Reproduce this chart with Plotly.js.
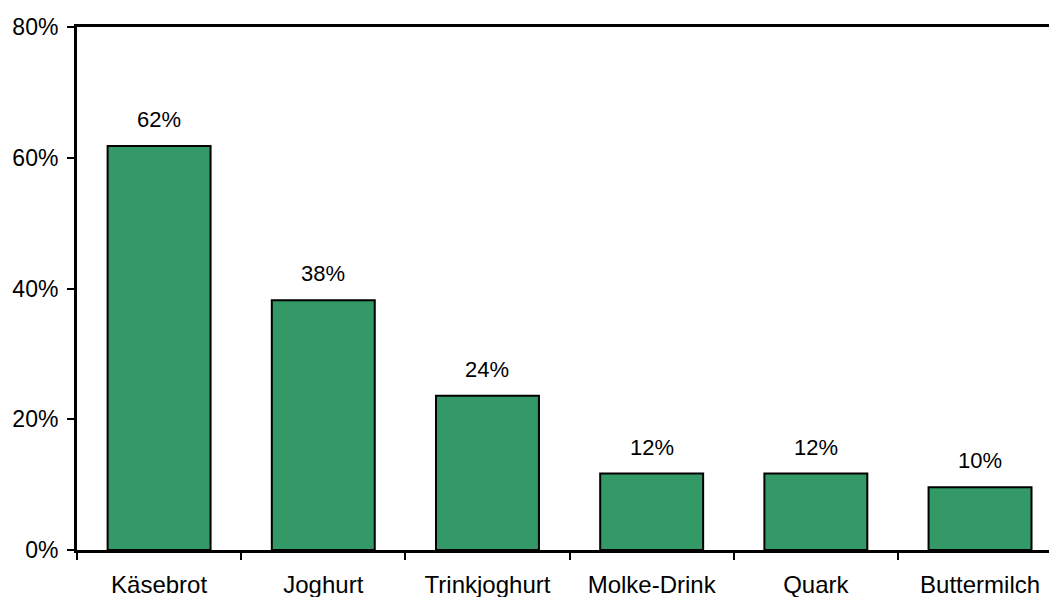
<!DOCTYPE html>
<html>
<head>
<meta charset="utf-8">
<script src="https://cdn.plot.ly/plotly-3.0.1.min.js"></script>
<style>html,body{margin:0;padding:0;background:#fff;}#chart{width:1049px;height:597px;}</style>
</head>
<body>
<div id="chart"></div>
<script>
const categories = ["Käsebrot", "Joghurt", "Trinkjoghurt", "Molke-Drink", "Quark", "Buttermilch"];
const values = [61.8, 38.2, 23.6, 11.7, 11.7, 9.6];
const labels = ["62%", "38%", "24%", "12%", "12%", "10%"];
const yTicks = [0, 20, 40, 60, 80];
const yTickLabels = ["0%", "20%", "40%", "60%", "80%"];

const font = "Arial, 'Liberation Sans', sans-serif";

const trace = {
  type: "bar",
  x: categories,
  y: values,
  marker: {color: "#339966", line: {color: "#000", width: 2}},
  hoverinfo: "none"
};

const annotations = categories.map((c, i) => ({
  x: c, y: values[i], xref: "x", yref: "y",
  text: labels[i], showarrow: false, yanchor: "bottom", yshift: 12,
  font: {family: font, size: 22, color: "#000"}
}));

const layout = {
  width: 1049, height: 597,
  margin: {l: 77, r: 0, t: 27, b: 47},
  paper_bgcolor: "#fff", plot_bgcolor: "#fff",
  showlegend: false,
  bargap: 0.373,
  font: {family: font, color: "#000"},
  xaxis: {
    type: "category",
    range: [-0.5, 5.42],
    showline: true, linecolor: "#000", linewidth: 3, mirror: true,
    ticks: "outside", tickson: "boundaries", ticklen: 7, tickwidth: 2, tickcolor: "#000",
    ticklabelstandoff: 11,
    tickfont: {family: font, size: 24, color: "#000"},
    showgrid: false, zeroline: false, fixedrange: true
  },
  yaxis: {
    range: [0, 80],
    tickvals: yTicks, ticktext: yTickLabels,
    showline: true, linecolor: "#000", linewidth: 3,
    ticks: "outside", ticklen: 7, tickwidth: 2, tickcolor: "#000",
    ticklabelstandoff: 4,
    tickfont: {family: font, size: 23, color: "#000"},
    showgrid: false, zeroline: false, fixedrange: true
  },
  annotations: annotations
};

Plotly.newPlot("chart", [trace], layout, {displayModeBar: false, staticPlot: true});
</script>
</body>
</html>
